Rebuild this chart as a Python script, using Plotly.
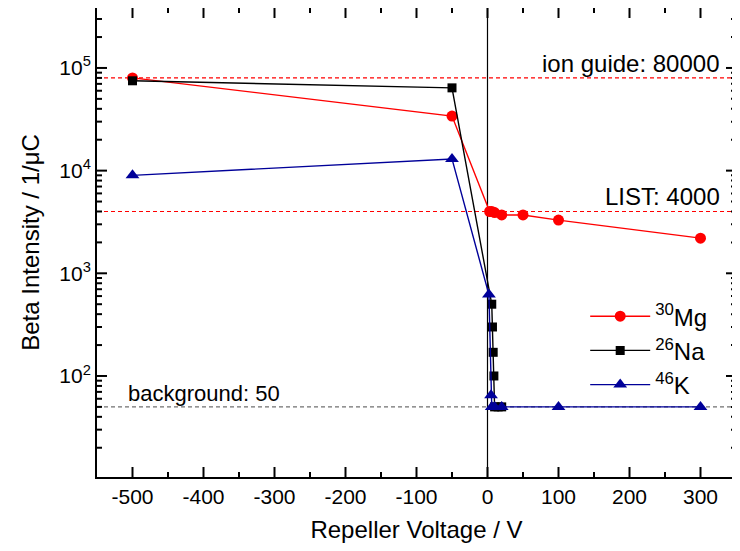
import plotly.graph_objects as go
import numpy as np

mg_x = [-500, -50, 3, 6, 10, 20, 50, 100, 300]
mg_y = [80000, 34000, 4000, 4000, 3900, 3700, 3700, 3300, 2200]

na_x = [-500, -50, 6, 7, 8, 9, 10, 15, 20]
na_y = [75000, 64000, 500, 300, 170, 100, 50, 50, 50]

k_x = [-500, -50, 2, 5, 6, 10, 20, 100, 300]
k_y = [9000, 13000, 620, 65, 50, 50, 50, 50, 50]

ref_levels = [80000, 4000, 50]
ref_labels = ["ion guide: 80000", "LIST: 4000", "background: 50"]

xticks = [-500, -400, -300, -200, -100, 0, 100, 200, 300]
xticklabels = ["-500", "-400", "-300", "-200", "-100", "0", "100", "200", "300"]
xminor = [-450, -350, -250, -150, -50, 50, 150, 250]
yticks = [100, 1000, 10000, 100000]
yticklabels = ["10<sup>2</sup>", "10<sup>3</sup>", "10<sup>4</sup>", "10<sup>5</sup>"]

XR = [-550, 350]
YR = [1.016, 5.584]
yminor = [m * 10 ** d for d in range(1, 6) for m in range(2, 10)
          if YR[0] < np.log10(m * 10 ** d) < YR[1]]

W, H = 732, 543
ML, MR, MT, MB = 89, 4, 0, 74
PW, PH = W - ML - MR, H - MT - MB

fig = go.Figure()
fig.add_trace(go.Scatter(x=mg_x, y=mg_y, mode="lines+markers", name="<sup>30</sup>Mg",
                         line=dict(color="#ff0000", width=1.4),
                         marker=dict(symbol="circle", size=11, color="#ff0000")))
fig.add_trace(go.Scatter(x=na_x, y=na_y, mode="lines+markers", name="<sup>26</sup>Na",
                         line=dict(color="#000000", width=1.4),
                         marker=dict(symbol="square", size=9, color="#000000")))
fig.add_trace(go.Scatter(x=k_x, y=k_y, mode="lines+markers", name="<sup>46</sup>K",
                         line=dict(color="#000099", width=1.4),
                         marker=dict(symbol="triangle-up", size=12, color="#000099")))

line_colors = ["#ff0000", "#ff0000", "#707070"]
for lv, c in zip(ref_levels, line_colors):
    fig.add_shape(type="line", xref="paper", x0=0, x1=1, yref="y", y0=lv, y1=lv,
                  line=dict(color=c, width=1.2, dash="4px,3px"), layer="between")
fig.add_shape(type="line", xref="x", x0=0, x1=0, yref="paper", y0=0, y1=1,
              line=dict(color="black", width=1.2), layer="between")

# inward-pointing tick marks on all four sides, placed at the axis tick values
tick_line = dict(color="black", width=2)
for vals, ln in [(xticks, 10), (xminor, 5)]:
    f = ln / PH
    for v in vals:
        fig.add_shape(type="line", xref="x", x0=v, x1=v, yref="paper", y0=0, y1=f,
                      line=tick_line, layer="above")
        fig.add_shape(type="line", xref="x", x0=v, x1=v, yref="paper", y0=1, y1=1 - f,
                      line=tick_line, layer="above")
for vals, ln in [(yticks, 10), (yminor, 5)]:
    f = ln / PW
    for v in vals:
        fig.add_shape(type="line", yref="y", y0=v, y1=v, xref="paper", x0=0, x1=f,
                      line=tick_line, layer="above")
        fig.add_shape(type="line", yref="y", y0=v, y1=v, xref="paper", x0=1, x1=1 - f,
                      line=tick_line, layer="above")

fig.add_annotation(x=0.978, xref="paper", y=np.log10(ref_levels[0]), yref="y", text=ref_labels[0],
                   showarrow=False, xanchor="right", yanchor="bottom", yshift=-1,
                   font=dict(size=24, color="black"))
fig.add_annotation(x=0.978, xref="paper", y=np.log10(ref_levels[1]), yref="y", text=ref_labels[1],
                   showarrow=False, xanchor="right", yanchor="bottom", yshift=-1,
                   font=dict(size=24, color="black"))
fig.add_annotation(x=0.045, xref="paper", y=np.log10(ref_levels[2]), yref="y", text=ref_labels[2],
                   showarrow=False, xanchor="left", yanchor="bottom", yshift=-1,
                   font=dict(size=22, color="black"))

fig.update_xaxes(range=XR, tickmode="array", tickvals=xticks, ticktext=xticklabels,
                 ticks="", showline=True, linecolor="black", linewidth=2, mirror=True,
                 showgrid=False, zeroline=False, automargin=False,
                 tickfont=dict(size=21, color="black"),
                 title=dict(text="Repeller Voltage / V", font=dict(size=24, color="black"), standoff=14))
fig.update_yaxes(type="log", range=YR, tickmode="array", tickvals=yticks, ticktext=yticklabels,
                 ticks="", showline=True, linecolor="black", linewidth=2, mirror=True,
                 showgrid=False, zeroline=False, automargin=False,
                 tickfont=dict(size=21, color="black"),
                 title=dict(text="Beta Intensity / 1/μC", font=dict(size=24, color="black"), standoff=13))

fig.update_layout(width=W, height=H, margin=dict(l=ML, r=MR, t=MT, b=MB),
                  paper_bgcolor="white", plot_bgcolor="rgba(0,0,0,0)",
                  font=dict(family="Liberation Sans, Arial, sans-serif", color="black"),
                  legend=dict(x=0.764, y=0.39, xanchor="left", yanchor="top",
                              font=dict(size=24, color="black"), itemwidth=60,
                              bgcolor="rgba(0,0,0,0)", tracegroupgap=0))

fig.write_html("out.html")
